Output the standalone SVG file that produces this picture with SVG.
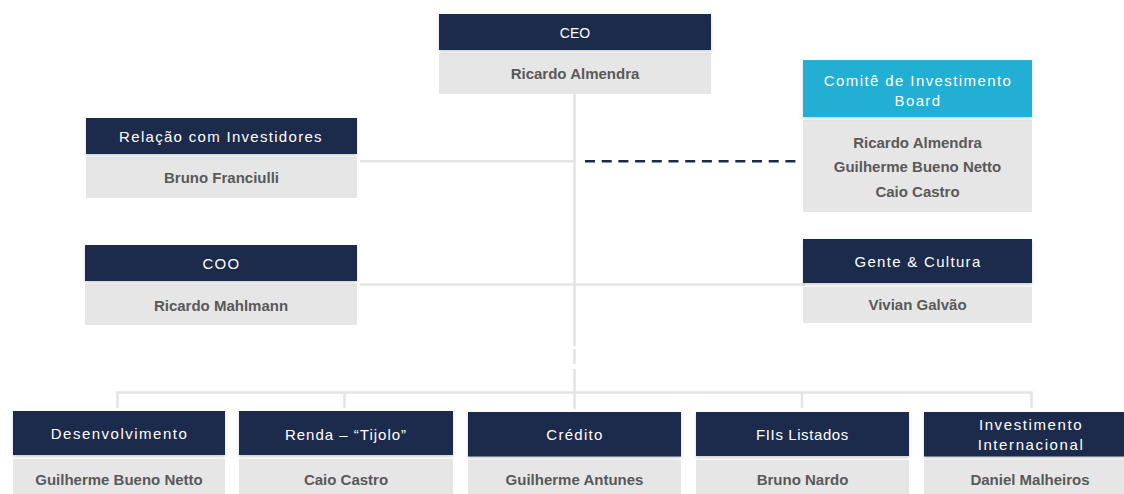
<svg xmlns="http://www.w3.org/2000/svg" width="1124" height="494" viewBox="0 0 1124 494">
<style>
.hd{fill:#1b2b4b}
.cy{fill:#23afd3}
.nm{fill:#e6e6e6}
.ht{font-family:"Liberation Sans",Arial,sans-serif;font-size:15px;fill:#ffffff;text-anchor:middle;letter-spacing:1.3px}
.nt{font-family:"Liberation Sans",Arial,sans-serif;font-size:15px;font-weight:bold;fill:#595959;text-anchor:middle}
.ln{fill:none;stroke:#e4e4e4;stroke-width:2.5}
.ds{fill:none;stroke:#1b2b4b;stroke-width:2.5;stroke-dasharray:10 6.7}
</style>
<defs>
<filter id="sh" x="-5%" y="-20%" width="110%" height="150%">
<feDropShadow dx="0" dy="2" stdDeviation="1.5" flood-color="#000000" flood-opacity="0.18"/>
</filter>
</defs>
<rect width="1124" height="494" fill="#ffffff"/>
<g id="connectors">
<path class="ln" d="M574.5 94 V346 M574.5 349 V364 M574.5 369 V409"/>
<path class="ln" d="M360 161.3 H574.5"/>
<path class="ln" d="M360 284.5 H805"/>
<path class="ln" d="M117.5 408 V392.5 H1031.5 V408 M344.5 392.5 V408 M802 392.5 V408"/>
<path class="ds" d="M585 161.3 H802"/>
</g>
<g id="ceo">
<rect class="nm" x="439" y="53" width="272" height="41"/>
<rect class="hd" x="439" y="14" width="272" height="36" filter="url(#sh)"/>
<text class="ht" x="575" y="38" style="letter-spacing:0;font-size:14px">CEO</text>
<text class="nt" x="575" y="79">Ricardo Almendra</text>
</g>
<g id="relacao">
<rect class="nm" x="86" y="157" width="271" height="41"/>
<rect class="hd" x="86" y="118" width="271" height="36" filter="url(#sh)"/>
<text class="ht" x="221" y="141.5">Relação com Investidores</text>
<text class="nt" x="221.5" y="183">Bruno Franciulli</text>
</g>
<g id="comite">
<rect class="nm" x="803" y="120" width="229" height="92"/>
<rect class="cy" x="803" y="60" width="229" height="57" filter="url(#sh)"/>
<text class="ht" x="918" y="86" style="letter-spacing:1.4px">Comitê de Investimento</text>
<text class="ht" x="918" y="106" style="letter-spacing:1.4px">Board</text>
<text class="nt" x="917.5" y="147.5">Ricardo Almendra</text>
<text class="nt" x="917.5" y="172">Guilherme Bueno Netto</text>
<text class="nt" x="917.5" y="196.5">Caio Castro</text>
</g>
<g id="coo">
<rect class="nm" x="85" y="284" width="272" height="41"/>
<rect class="hd" x="85" y="245" width="272" height="36" filter="url(#sh)"/>
<text class="ht" x="221.5" y="268.5">COO</text>
<text class="nt" x="221" y="311">Ricardo Mahlmann</text>
</g>
<g id="gente">
<rect class="nm" x="803" y="287" width="229" height="36"/>
<rect class="hd" x="803" y="239" width="229" height="44" filter="url(#sh)"/>
<text class="ht" x="918" y="267">Gente &amp; Cultura</text>
<text class="nt" x="917.5" y="309.5">Vivian Galvão</text>
</g>
<g id="desenvolvimento">
<rect class="nm" x="13" y="459" width="212" height="36"/>
<rect class="hd" x="13" y="411" width="212" height="44" filter="url(#sh)"/>
<text class="ht" x="119.5" y="438.5" style="letter-spacing:1.5px">Desenvolvimento</text>
<text class="nt" x="119" y="484.5">Guilherme Bueno Netto</text>
</g>
<g id="renda">
<rect class="nm" x="239" y="459" width="214" height="36"/>
<rect class="hd" x="239" y="411" width="214" height="44" filter="url(#sh)"/>
<text class="ht" x="346" y="440" style="letter-spacing:1px">Renda – “Tijolo”</text>
<text class="nt" x="346" y="484.5">Caio Castro</text>
</g>
<g id="credito">
<rect class="nm" x="468" y="460" width="213" height="35"/>
<rect class="hd" x="468" y="412" width="213" height="44.5" filter="url(#sh)"/>
<text class="ht" x="575" y="440">Crédito</text>
<text class="nt" x="574.5" y="484.5">Guilherme Antunes</text>
</g>
<g id="fiis">
<rect class="nm" x="696" y="460" width="213" height="35"/>
<rect class="hd" x="696" y="412" width="213" height="44" filter="url(#sh)"/>
<text class="ht" x="802.5" y="440" style="letter-spacing:0.6px">FIIs Listados</text>
<text class="nt" x="802.5" y="484.5">Bruno Nardo</text>
</g>
<g id="internacional">
<rect class="nm" x="924" y="460" width="212" height="35"/>
<rect class="hd" x="924" y="412" width="212" height="44.5" filter="url(#sh)"/>
<text class="ht" x="1031" y="430" style="letter-spacing:1.6px">Investimento</text>
<text class="ht" x="1031" y="450" style="letter-spacing:1.6px">Internacional</text>
<text class="nt" x="1030" y="484.5">Daniel Malheiros</text>
</g>
</svg>
